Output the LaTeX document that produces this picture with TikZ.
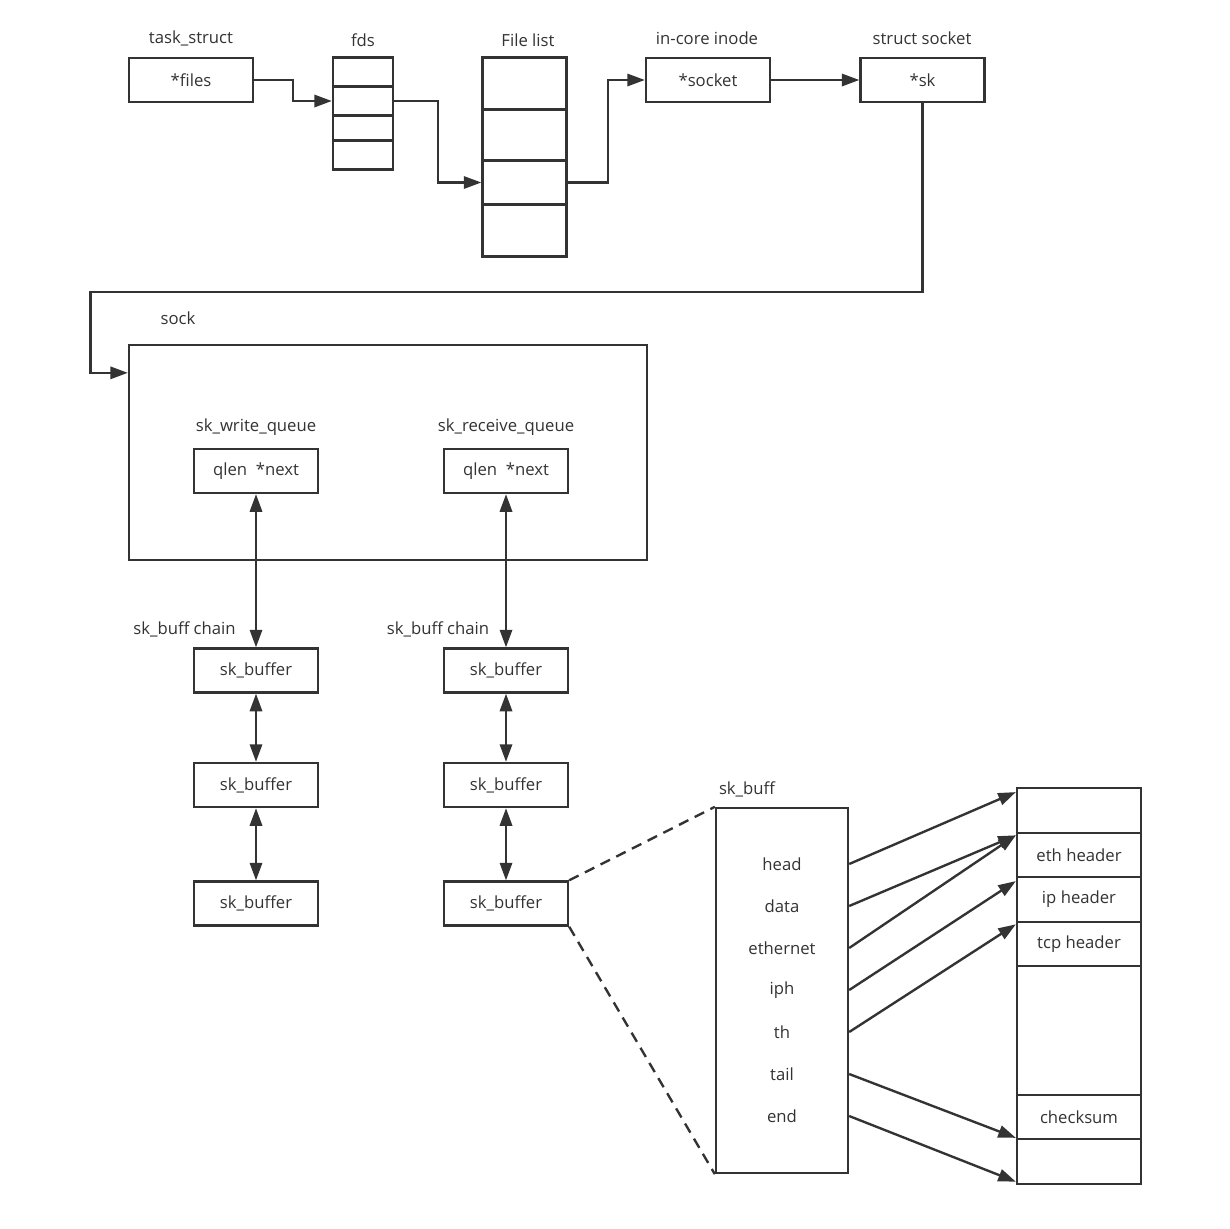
\documentclass[tikz,border=0pt]{standalone}
\usepackage{fontspec}
\setmainfont{Open Sans}
\usepackage{tikz}
\usetikzlibrary{arrows.meta,calc}
\definecolor{lineC}{RGB}{51,51,51}
\definecolor{txtC}{RGB}{51,51,51}
\begin{document}
\begin{tikzpicture}[x=0.02cm,y=-0.02cm,font=\fontsize{9.5}{11}\selectfont,>={Triangle[length=10pt,width=7pt]},
  box/.style ={draw=lineC,line width=1.35pt,minimum width=2.48cm,minimum height=0.88cm,inner sep=0pt,text=txtC},
  cell/.style={draw=lineC,line width=1.35pt,inner sep=0pt,text=txtC},
  lab/.style ={text=txtC,inner sep=1pt},
  link/.style={->,draw=lineC,line width=1.35pt},
  pair/.style={<->,draw=lineC,line width=1.35pt},
  zoomline/.style={draw=lineC,line width=1.35pt,dash pattern=on 6pt off 4pt}]
\useasboundingbox[fill=white] (0,0) rectangle (1230,1228);

\node[lab] (taskL) at (191,38) {task\_struct};
\node[box] (files) at (191,80) {*files};

\node[lab] (fdsL) at (363,40) {fds};
\node[cell,minimum width=1.2cm,minimum height=0.58cm] (fd1) at (363,72) {};
\node[cell,minimum width=1.2cm,minimum height=0.58cm] (fd2) at (363,101) {};
\node[cell,minimum width=1.2cm,minimum height=0.5cm]  (fd3) at (363,128) {};
\node[cell,minimum width=1.2cm,minimum height=0.58cm] (fd4) at (363,155) {};

\node[lab] (flL) at (528,40) {File list};
\node[cell,minimum width=1.68cm,minimum height=1.04cm] (fl1) at (524.5,83.5) {};
\node[cell,minimum width=1.68cm,minimum height=1.02cm] (fl2) at (524.5,135) {};
\node[cell,minimum width=1.68cm,minimum height=0.88cm] (fl3) at (524.5,182.5) {};
\node[cell,minimum width=1.68cm,minimum height=1.04cm] (fl4) at (524.5,230.5) {};

\node[lab] (inodeL) at (707,38) {in-core inode};
\node[box] (inode) at (708,80) {*socket};
\node[lab] (socketL) at (922,38) {struct socket};
\node[box] (socket) at (922.5,80) {*sk};

\node[lab] (sockL) at (178,318) {sock};
\node[cell,minimum width=10.36cm,minimum height=4.3cm] (sock) at (388,452.5) {};
\node[lab] (wqL) at (256,427) {sk\_write\_queue};
\node[box] (wq) at (256,471) {qlen\ \ *next};
\node[lab] (rqL) at (506,427) {sk\_receive\_queue};
\node[box] (rq) at (506,471) {qlen\ \ *next};

\node[lab] (chainA) at (184.5,629) {sk\_buff chain};
\node[box] (b11) at (256,670.5) {sk\_buffer};
\node[box] (b12) at (256,785) {sk\_buffer};
\node[box] (b13) at (256,903.5) {sk\_buffer};
\node[lab] (chainB) at (438,629) {sk\_buff chain};
\node[box] (b21) at (506,670.5) {sk\_buffer};
\node[box] (b22) at (506,785) {sk\_buffer};
\node[box] (b23) at (506,903.5) {sk\_buffer};

\node[lab] (skbL) at (747,789) {sk\_buff};
\node[cell,minimum width=2.64cm,minimum height=7.3cm] (skb) at (782,990.5) {};
\node[lab] (head) at (782,864) {head};
\node[lab] (data) at (782,906) {data};
\node[lab] (eth)  at (782,948) {ethernet};
\node[lab] (iph)  at (782,990) {iph};
\node[lab] (th)   at (782,1032) {th};
\node[lab] (tail) at (782,1074) {tail};
\node[lab] (end)  at (782,1116) {end};

\node[cell,minimum width=2.48cm,minimum height=0.9cm]  (p1) at (1079,810.5) {};
\node[cell,minimum width=2.48cm,minimum height=0.88cm] (p2) at (1079,855) {eth header};
\node[cell,minimum width=2.48cm,minimum height=0.9cm]  (p3) at (1079,899.5) {ip header};
\node[cell,minimum width=2.48cm,minimum height=0.88cm] (p4) at (1079,944) {tcp header};
\node[cell,minimum width=2.48cm,minimum height=2.58cm] (p5) at (1079,1030.5) {};
\node[cell,minimum width=2.48cm,minimum height=0.88cm] (p6) at (1079,1117) {checksum};
\node[cell,minimum width=2.48cm,minimum height=0.9cm]  (p7) at (1079,1161.5) {};

\draw[link] (files.east) -- ++(39,0) |- (fd2.west);
\draw[link] (fd2.east) -- ++(44,0) |- (fl3.west);
\draw[link] (fl3.east) -- ++(40,0) |- (inode.west);
\draw[link] (inode) -- (socket);
\draw[link] (socket.south) |- ++(-832,189) |- ($(sock.north west)+(0,29)$);

\draw[pair] (wq) -- (b11);
\draw[pair] (b11) -- (b12);
\draw[pair] (b12) -- (b13);
\draw[pair] (rq) -- (b21);
\draw[pair] (b21) -- (b22);
\draw[pair] (b22) -- (b23);

\draw[zoomline] (b23.north east) -- (skb.north west);
\draw[zoomline] (b23.south east) -- (skb.south west);

\draw[link] (head -| skb.east) -- ([yshift=-3pt]p1.north west);
\draw[link] (data -| skb.east) -- ([yshift=-2pt]p2.north west);
\draw[link] (eth -| skb.east)  -- ([yshift=-2pt]p2.north west);
\draw[link] (iph -| skb.east)  -- ([yshift=-3pt]p3.north west);
\draw[link] (th -| skb.east)   -- ([yshift=-2pt]p4.north west);
\draw[link] (tail -| skb.east) -- (p7.north west);
\draw[link] (end -| skb.east)  -- ([yshift=2pt]p7.south west);
\end{tikzpicture}
\end{document}
